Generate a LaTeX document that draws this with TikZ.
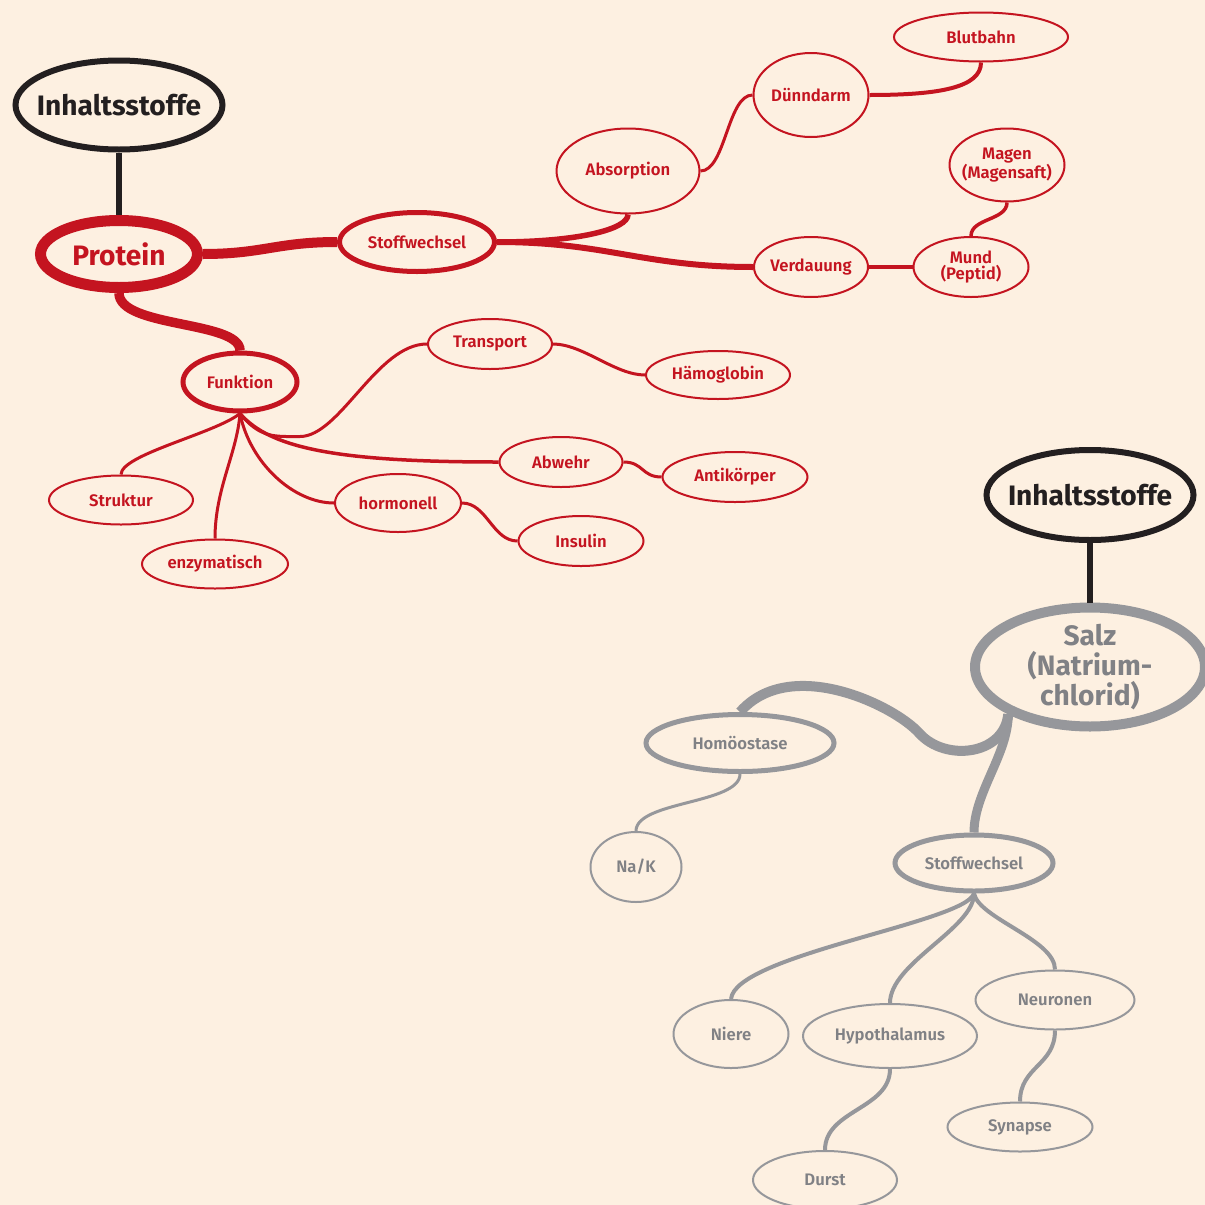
\documentclass[tikz,border=0pt]{standalone}
\usepackage{fontspec}
\setmainfont{Fira Sans}[BoldFont={Fira Sans SemiBold}]
\newfontfamily\pesante{Fira Sans}
\usetikzlibrary{shapes.geometric}
\definecolor{sfondo}{HTML}{FDF0E1}
\definecolor{rosso}{HTML}{C41420}
\definecolor{grigio}{HTML}{96979B}
\definecolor{grigiotesto}{HTML}{808185}
\definecolor{nero}{HTML}{231F20}

\begin{document}
\begin{tikzpicture}[x=0.2mm, y=-0.2mm,
        nodo/.style={ellipse, draw, inner xsep=-20mm, inner ysep=-10mm, align=center,
                font=\bfseries\fontsize{9.5}{9.5}\selectfont},
        dim/.style 2 args={minimum width=#1*0.2mm, minimum height=#2*0.2mm},
        foglia/.style={nodo, draw=rosso, text=rosso, line width=0.4mm},
        fogliag/.style={nodo, draw=grigio, text=grigiotesto, line width=0.4mm},
        hub/.style={nodo, draw=#1, line width=1mm},
        grande/.style={font=\pesante\bfseries\fontsize{16}{17}\selectfont},
        radice/.style={nodo, grande, draw=nero, text=nero, line width=1.2mm},
        ramo/.style={draw=rosso, line width=#1},
        ramog/.style={draw=grigio, line width=#1}]

    \useasboundingbox (0,0) rectangle (1205,1205);
    \clip (0,0) rectangle (1205,1205);
    \fill[sfondo] (0,0) rectangle (1205,1205);

    % Nodi - Protein
    \node[radice, dim={207}{89}] (inh1) at (119,105) {Inhaltsstoffe};
    \node[nodo, grande, draw=rosso, text=rosso, line width=2.2mm, dim={157}{67}] (prot) at (119,254) {Protein};
    \node[hub=rosso, text=rosso, dim={155}{59}] (stw) at (417,242) {Stoffwechsel};
    \node[hub=rosso, text=rosso, dim={114}{58}] (fun) at (240,382) {Funktion};
    \foreach \n/\x/\y/\w/\h/\t in {
            abs/628/171/143/85/Absorption,
            due/811/95/115/84/Dünndarm,
            blu/981/37/174/49/Blutbahn,
            ver/811/267/114/60/Verdauung,
            mun/971/267/115/60/{Mund\\(Peptid)},
            mag/1007/165/115/73/{Magen\\(Magensaft)},
            tra/490/344/124/50/Transport,
            hae/718/375/144/48/Hämoglobin,
            abw/561/462/123/50/Abwehr,
            ant/735/477/145/50/Antikörper,
            str/121/500/144/49/Struktur,
            enz/215/564/146/49/enzymatisch,
            hor/398/503/126/58/hormonell,
            ins/581/541/125/50/Insulin} {
            \node[foglia, dim={\w}{\h}] (\n) at (\x,\y) {\t};
        }

    % Nodi - Salz
    \node[radice, dim={207}{90}] (inh2) at (1090,495) {Inhaltsstoffe};
    \node[nodo, grande, draw=grigio, text=grigiotesto, line width=2mm, dim={230}{119}] (salz) at (1090,667) {Salz\\(Natrium-\\chlorid)};
    \node[hub=grigio, text=grigiotesto, dim={188}{57}] (hom) at (740,743) {Homöostase};
    \node[hub=grigio, text=grigiotesto, dim={158}{56}] (stg) at (974,863) {Stoffwechsel};
    \foreach \n/\x/\y/\w/\h/\t in {
            nak/636/867/91/70/{Na/K},
            nie/731/1034/115/68/Niere,
            hyp/890/1036/174/64/Hypothalamus,
            neu/1055/1000/159/59/Neuronen,
            syn/1020/1127/145/49/Synapse,
            dur/825/1180/144/58/Durst} {
            \node[fogliag, dim={\w}{\h}] (\n) at (\x,\y) {\t};
        }

    % Rami - Protein
    \draw[nero, line width=1.1mm] (inh1.south) -- (prot.north);
    \draw[ramo=2mm] (prot.east) .. controls +(60,0) and +(-60,0) .. (stw.west);
    \draw[ramo=1.9mm] (prot.south) .. controls +(0,35) and +(0,-30) .. (fun.north);
    \draw[ramo=1.1mm] (stw.east) .. controls +(80,0) and +(0,15) .. (abs.south);
    \draw[ramo=1.2mm] (stw.east) .. controls +(110,0) and +(-110,0) .. (ver.west);
    \draw[ramo=0.6mm] (abs.east) .. controls +(25,0) and +(-25,0) .. (due.west);
    \draw[ramo=0.8mm] (due.east) .. controls +(70,0) and +(0,25) .. (blu.south);
    \draw[ramo=0.8mm] (ver) -- (mun);
    \draw[ramo=0.7mm] (mun.north) .. controls +(0,-18) and +(0,18) .. (mag.south);
    \draw[ramo=0.6mm] (fun.south) .. controls +(-25,20) and +(0,-20) .. (str.north);
    \draw[ramo=0.6mm] (fun.south) .. controls +(-3,40) and +(0,-50) .. (enz.north);
    \draw[ramo=0.6mm] (fun.south) .. controls +(10,50) and +(-40,0) .. (hor.west);
    \draw[ramo=0.7mm] (fun.south) .. controls +(30,35) and +(-160,0) .. (abw.west);
    \draw[ramo=0.6mm] (fun.south) .. controls +(20,25) and +(-25,0) .. ++(60,23)
        .. controls +(40,0) and +(-50,0) .. (tra.west);
    \draw[ramo=0.6mm] (tra.east) .. controls +(30,0) and +(-30,0) .. (hae.west);
    \draw[ramo=0.6mm] (abw.east) .. controls +(20,0) and +(-20,0) .. (ant.west);
    \draw[ramo=0.6mm] (hor.east) .. controls +(25,0) and +(-25,0) .. (ins.west);

    % Rami - Salz
    \draw[nero, line width=1.1mm] (inh2.south) -- (salz.north);
    \draw[ramog=2mm] (salz.-150) .. controls +(-4,41) and +(26,29) .. ++(-89,19)
        .. controls +(-25,-28) and +(50,-57) .. (hom.north);
    \draw[ramog=1.8mm] (salz.-150) .. controls +(0,40) and +(0,-40) .. (stg.north);
    \draw[ramog=0.6mm] (hom.south) .. controls +(0,30) and +(0,-30) .. (nak.north);
    \draw[ramog=0.8mm] (stg.south) .. controls +(-9,29) and +(4,-44) .. (nie.north);
    \draw[ramog=0.8mm] (stg.south) .. controls +(0,35) and +(0,-40) .. (hyp.north);
    \draw[ramog=0.8mm] (stg.south) .. controls +(5,25) and +(0,-30) .. (neu.north);
    \draw[ramog=0.8mm] (hyp.south) .. controls +(0,40) and +(0,-40) .. (dur.north);
    \draw[ramog=0.8mm] (neu.south) .. controls +(0,35) and +(0,-35) .. (syn.north);
\end{tikzpicture}
\end{document}
